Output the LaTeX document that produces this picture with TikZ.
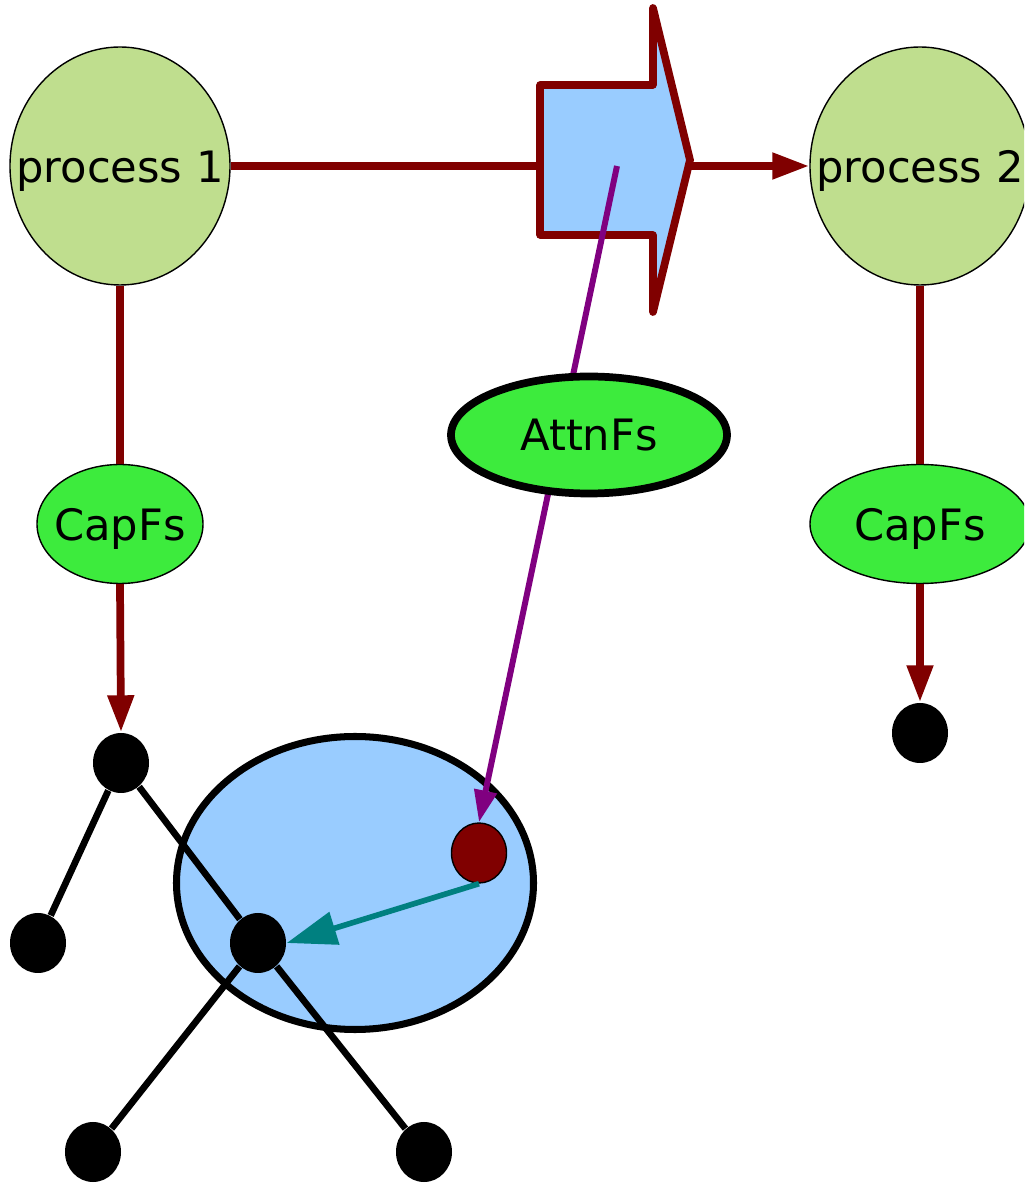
\documentclass[tikz,border=0pt]{standalone}
\usepackage{fontspec}
\setmainfont{DejaVu Sans}
\usepackage{tikz}
\usetikzlibrary{shapes.geometric,arrows.meta}
\definecolor{procgreen}{HTML}{BFDE8E}
\definecolor{capgreen}{HTML}{3DEB3D}
\definecolor{lightblue}{HTML}{99CCFF}
\definecolor{darkred}{HTML}{800000}
\definecolor{attnpurple}{HTML}{800080}
\definecolor{tealarrow}{HTML}{008080}

\begin{document}
\begin{tikzpicture}[
    font=\fontsize{12.3}{14}\selectfont,
    proc/.style={ellipse,draw=black,line width=0.4pt,fill=procgreen,inner sep=0pt,minimum width=2.2cm,minimum height=2.38cm},
    capfs/.style={ellipse,draw=black,line width=0.4pt,fill=capgreen,inner sep=0pt,minimum height=1.19cm},
    leaf/.style={ellipse,fill=black,inner sep=0pt,minimum width=0.56cm,minimum height=0.6cm},
    flow/.style={darkred,line width=2.2pt},
    flowarrow/.style={flow,-{Triangle[length=0.37cm,width=0.25cm]}},
    edge/.style={black,line width=1.9pt},
    lab/.style={yshift=-0.05cm}
]
    \clip (0,0) rectangle (10.24,11.83);
    % processes and their capabilities
    \node[proc,label={[lab]center:process 1}] (P1) at (1.20,10.17) {};
    \node[proc,label={[lab]center:process 2}] (P2) at (9.20,10.17) {};
    \node[capfs,minimum width=1.66cm,label={[lab]center:CapFs}] (C1) at (1.20,6.59) {};
    \node[capfs,minimum width=2.2cm,label={[lab]center:CapFs}] (C2) at (9.20,6.59) {};
    % object graph
    \node[ellipse,draw=black,line width=2pt,fill=lightblue,minimum width=3.57cm,minimum height=2.93cm] (R) at (3.55,3.00) {};
    \node[leaf] (T1) at (1.21,4.20) {};
    \node[leaf] (T2) at (0.38,2.40) {};
    \node[leaf] (T3) at (2.58,2.40) {};
    \node[leaf] (T4) at (0.93,0.31) {};
    \node[leaf] (T5) at (4.24,0.31) {};
    \node[leaf] (T6) at (9.20,4.50) {};
    \node[ellipse,draw=black,line width=0.4pt,fill=darkred,inner sep=0pt,minimum width=0.55cm,minimum height=0.6cm] (RD) at (4.79,3.30) {};
    \draw[edge] (T1)--(T2);
    \draw[edge] (T1)--(T3);
    \draw[edge] (T3)--(T4);
    \draw[edge] (T3)--(T5);
    % message
    \draw[darkred,line width=2.2pt,line join=round,fill=lightblue]
        (5.40,9.48)--(5.40,10.98)--(6.53,10.98)--(6.53,11.75)--(6.90,10.23)--(6.53,8.71)--(6.53,9.48)--cycle;
    \coordinate (M1) at (5.40,10.17);
    \coordinate (M2) at (6.90,10.17);
    \coordinate (M3) at (6.17,10.17);
    \draw[flow] (P1.east)--(M1);
    \draw[flowarrow] (M2)--(P2.west);
    \draw[flow] (P1.south)--(C1.north);
    \draw[flowarrow] (C1.south)--(T1.north);
    \draw[flow] (P2.south)--(C2.north);
    \draw[flowarrow] (C2.south)--(T6.north);
    \draw[attnpurple,line width=1.7pt,-{Triangle[length=0.32cm,width=0.22cm]}] (M3)--(RD.north);
    \node[ellipse,draw=black,line width=2.2pt,fill=capgreen,inner sep=0pt,minimum width=2.76cm,minimum height=1.17cm] (A) at (5.89,7.48) {AttnFs};
    \draw[tealarrow,line width=1.6pt,-{Triangle[length=0.5cm,width=0.33cm]}] (RD.south)--(T3.east);
\end{tikzpicture}
\end{document}
